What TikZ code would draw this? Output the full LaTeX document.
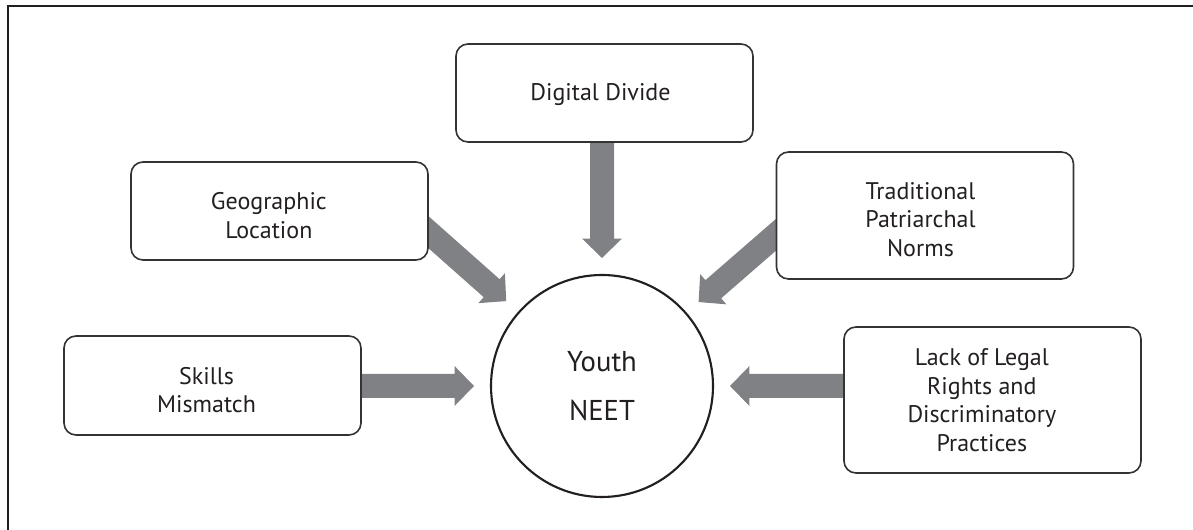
\documentclass[tikz,border=0pt]{standalone}
\usepackage{fontspec}
\setmainfont{PT Sans}
\usetikzlibrary{calc,backgrounds}

\definecolor{ink}{HTML}{231F20}
\definecolor{rim}{HTML}{333333}
\definecolor{shaft}{RGB}{128,129,133}

% Block arrow from a point inside a box (#1) towards the hub node (#2),
% stopping short of the hub's rim.
\newcommand\fatarrow[2]{%
  \path ($(#1)!-15pt!(#2.center)$) coordinate (fa-s)
        ($(#2.center)!96pt!(#1)$) coordinate (fa-t);
  \path ($(fa-t)!14.6pt!(fa-s)$) coordinate (fa-b);
  \fill[shaft] ($(fa-s)!9pt!90:(fa-b)$) -- ($(fa-b)!9pt!-90:(fa-s)$)
    -- ($(fa-b)!15pt!-90:(fa-s)$) -- (fa-t) -- ($(fa-b)!15pt!90:(fa-s)$)
    -- ($(fa-b)!9pt!90:(fa-s)$) -- ($(fa-s)!9pt!-90:(fa-b)$) -- cycle;}

\begin{document}
\begin{tikzpicture}[x=0.75pt,y=0.75pt,
  box/.style={draw=rim, line width=1.2pt, fill=white, rounded corners=9pt,
    minimum width=222.75pt, inner sep=0pt},
  txt/.style={inner sep=0pt, align=center, text=ink,
    font=\fontsize{18}{21.4}\selectfont},
  hub/.style={circle, draw=ink, line width=1.6pt, fill=white,
    minimum size=166.5pt, inner sep=0pt, align=center, text=ink,
    font=\fontsize{21.5}{36.75}\selectfont}]
\useasboundingbox (0,0) rectangle (1193,530);

% frame
\draw[ink, line width=1.5pt] (7.5,-2) -- (7.5,523.5) -- (1200,523.5);

% factor boxes and the central node
\node[box, minimum height=73.5pt,
  label={[txt, xshift=-3pt, yshift=-1pt]center:Digital Divide}] (dig) at (604.5,437) {};
\node[box, minimum height=73.5pt,
  label={[txt, xshift=-8pt, yshift=-3.5pt]center:{Geographic\\Location}}] (geo) at (279.5,319) {};
\node[box, minimum height=95.25pt,
  label={[txt, xshift=-3.4pt, yshift=-3pt]center:{Traditional\\Patriarchal\\Norms}}] (trad) at (925,314.5) {};
\node[box, minimum height=109.5pt,
  label={[txt, xshift=-8pt, yshift=0pt]center:{Lack of Legal\\Rights and\\Discriminatory\\Practices}}] (lack) at (992.5,130) {};
\node[box, minimum height=74.25pt,
  label={[txt, xshift=-4.5pt, yshift=-3.5pt]center:{Skills\\Mismatch}}] (skills) at (212.5,144.5) {};
\node[hub] (youth) at (602,144) {Youth\\NEET};

% points where the arrows leave the boxes
\coordinate (ge) at ($(geo.east)+(0,-21.5)$);
\coordinate (te) at ($(trad.west)+(0,-19.5)$);
\coordinate (de) at (youth.center |- dig.south);
\coordinate (se) at (skills.east |- youth.center);
\coordinate (le) at (lack.west |- youth.center);

\begin{scope}[on background layer]
  \fatarrow{de}{youth}
  \fatarrow{ge}{youth}
  \fatarrow{te}{youth}
  \fatarrow{se}{youth}
  \fatarrow{le}{youth}
\end{scope}
\end{tikzpicture}
\end{document}
